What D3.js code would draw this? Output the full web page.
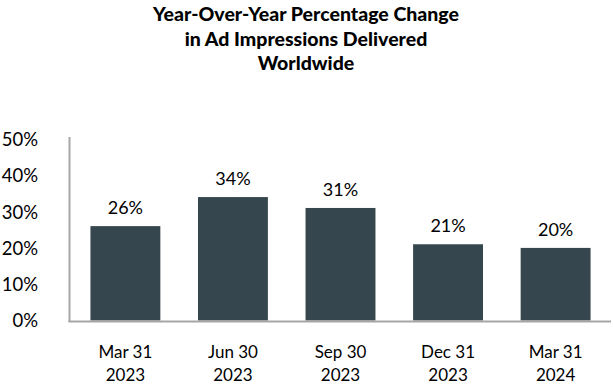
<!DOCTYPE html>
<html>
<head>
<meta charset="utf-8">
<script src="https://cdn.jsdelivr.net/npm/d3@7"></script>
<style>
  html, body { margin: 0; padding: 0; background: #fff; }
  svg { display: block; }
  text { font-family: Lato, "Open Sans", sans-serif; fill: #000; }
</style>
</head>
<body>
<svg id="chart" width="614" height="384"></svg>
<script>
const titleLines = ["Year-Over-Year Percentage Change", "in Ad Impressions Delivered", "Worldwide"];
const categories = [["Mar 31", "2023"], ["Jun 30", "2023"], ["Sep 30", "2023"], ["Dec 31", "2023"], ["Mar 31", "2024"]];
const values = [26, 34, 31, 21, 20];
const yTicks = [0, 10, 20, 30, 40, 50];

const svg = d3.select("#chart");
const x = d3.scaleBand().domain(d3.range(categories.length)).range([70, 611]).paddingInner(0.35).paddingOuter(0.19);
const y = d3.scaleLinear().domain([0, 50]).range([320.5, 139]);

// title
svg.append("text")
  .attr("x", 306).attr("y", 21)
  .attr("text-anchor", "middle")
  .style("font-weight", "900").style("font-size", "19.5px")
  .selectAll("tspan").data(titleLines).join("tspan")
  .attr("x", 306).attr("dy", (d, i) => i === 0 ? 0 : 24.5).text(d => d);

// bars
svg.append("g").selectAll("rect").data(values).join("rect")
  .attr("x", (d, i) => x(i)).attr("width", x.bandwidth())
  .attr("y", d => y(d)).attr("height", d => y(0) - y(d))
  .attr("fill", "#36464f");

// value labels
svg.append("g").selectAll("text").data(values).join("text")
  .attr("x", (d, i) => x(i) + x.bandwidth() / 2)
  .attr("y", d => y(d) - 12)
  .attr("text-anchor", "middle").style("font-size", "18px")
  .text(d => d + "%");

// axes lines
const axisColor = "#a6a6a6";
svg.append("line").attr("x1", 69.5).attr("x2", 69.5).attr("y1", 137).attr("y2", 322)
  .attr("stroke", axisColor).attr("stroke-width", 2);
svg.append("line").attr("x1", 68.5).attr("x2", 611).attr("y1", 321.5).attr("y2", 321.5)
  .attr("stroke", axisColor).attr("stroke-width", 2);

// y tick labels
const yAxis = d3.axisLeft(y).tickValues(yTicks).tickFormat(d => d + "%").tickSize(0).tickPadding(0);
const ga = svg.append("g").attr("transform", "translate(38,0)").call(yAxis);
ga.select(".domain").remove();
ga.selectAll("text").style("font-size", "18.5px").style("font-family", "Lato, sans-serif").attr("fill", "#000").attr("dy", "0.35em");

// x labels
const xg = svg.append("g").selectAll("text").data(categories).join("text")
  .attr("text-anchor", "middle").style("font-size", "17px")
  .attr("transform", (d, i) => `translate(${x(i) + x.bandwidth() / 2},358)`);
xg.selectAll("tspan").data(d => d).join("tspan")
  .attr("x", 0).attr("dy", (d, i) => i === 0 ? 0 : 23).text(d => d);
</script>
</body>
</html>
